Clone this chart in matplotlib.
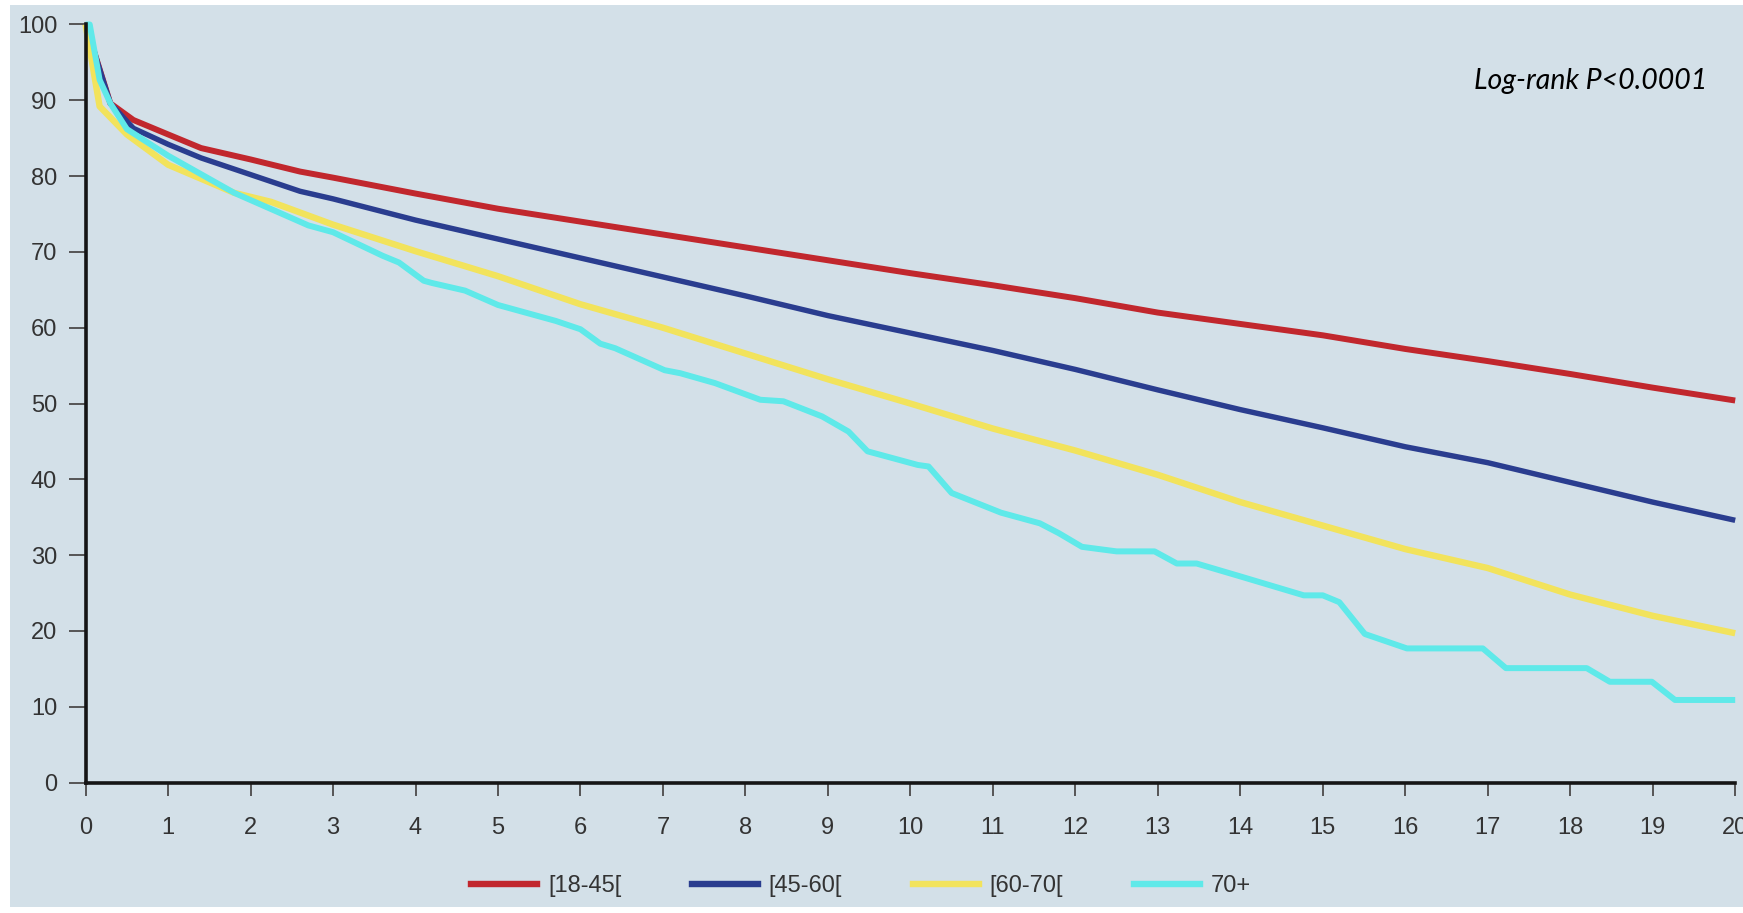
import matplotlib
matplotlib.use("Agg")
import matplotlib.pyplot as plt
from matplotlib.patches import Rectangle
from matplotlib.lines import Line2D
from matplotlib import font_manager

# Kaplan-Meier survival (%) by age group, follow-up in years
groups = ["[18-45[", "[45-60[", "[60-70[", "70+"]
colors = ["#C1272D", "#2A3D8F", "#F2E35C", "#5FE9E9"]

t_18_45 = [0, 0.3, 0.58, 1.0, 1.4, 2.0, 2.6, 3.0, 4.0, 5.0, 6.0, 7.0, 8.0, 9.0,
           10.0, 11.0, 12.0, 13.0, 14.0, 15.0, 16.0, 17.0, 18.0, 19.0, 20.0]
s_18_45 = [100, 89.6, 87.4, 85.5, 83.7, 82.2, 80.6, 79.8, 77.7, 75.7, 74.0, 72.3, 70.6, 68.9,
           67.2, 65.6, 63.9, 62.0, 60.5, 59.0, 57.2, 55.6, 53.9, 52.1, 50.4]

t_45_60 = [0, 0.3, 0.58, 1.0, 1.4, 2.0, 2.6, 3.0, 4.0, 5.0, 6.0, 7.0, 8.0, 9.0,
           10.0, 11.0, 12.0, 13.0, 14.0, 15.0, 16.0, 17.0, 18.0, 19.0, 20.0]
s_45_60 = [100, 89.6, 86.3, 84.2, 82.4, 80.2, 78.0, 77.0, 74.2, 71.7, 69.2, 66.7, 64.2, 61.6,
           59.3, 57.0, 54.5, 51.8, 49.2, 46.8, 44.3, 42.2, 39.6, 37.0, 34.6]

t_60_70 = [0, 0.17, 0.5, 1.0, 1.8, 2.25, 3.0, 4.0, 5.0, 6.0, 7.0, 8.0, 9.0,
           10.0, 11.0, 12.0, 13.0, 14.0, 15.0, 16.0, 17.0, 18.0, 19.0, 20.0]
s_60_70 = [100, 89.2, 85.5, 81.5, 77.8, 76.6, 73.6, 70.1, 66.8, 63.1, 60.0, 56.6, 53.2,
           50.0, 46.7, 43.8, 40.6, 37.0, 33.9, 30.8, 28.3, 24.8, 22.0, 19.7]

t_70 = [0, 0.05, 0.17, 0.3, 0.5, 1.0, 1.8, 2.7, 3.0, 3.6, 3.8, 4.1, 4.2, 4.6, 5.0, 5.7,
        6.0, 6.24, 6.42, 7.02, 7.21, 7.63, 8.18, 8.46, 8.93, 9.25, 9.48, 10.09, 10.22,
        10.5, 11.1, 11.57, 11.8, 12.08, 12.5, 12.96, 13.23, 13.47, 14.0, 14.77, 15.0,
        15.2, 15.51, 16.02, 16.94, 17.22, 18.2, 18.48, 18.99, 19.27, 20.0]
s_70 = [100, 100, 92.7, 89.6, 86.2, 82.7, 77.8, 73.5, 72.6, 69.5, 68.6, 66.2, 65.9, 64.9,
        63.0, 60.9, 59.8, 57.9, 57.3, 54.4, 54.0, 52.7, 50.5, 50.3, 48.3, 46.3, 43.7, 41.9,
        41.7, 38.2, 35.6, 34.2, 32.9, 31.1, 30.5, 30.5, 28.9, 28.9, 27.2, 24.7, 24.7,
        23.8, 19.6, 17.7, 17.7, 15.1, 15.1, 13.3, 13.3, 10.9, 10.9]

times = [t_18_45, t_45_60, t_60_70, t_70]
survival = [s_18_45, s_45_60, s_60_70, s_70]

x_ticks = list(range(0, 21))
y_ticks = list(range(0, 101, 10))
annotation = "Log-rank P<0.0001"

bg = "#D3E0E8"
text_col = "#333333"

names = {f.name for f in font_manager.fontManager.ttflist}
tick_font = "Liberation Sans Narrow" if "Liberation Sans Narrow" in names else "Liberation Sans"

W, H = 1743, 913
fig = plt.figure(figsize=(W / 100, H / 100), dpi=100, facecolor="white")
fig.patches.append(Rectangle((10 / W, 6 / H), 1 - 10 / W, 1 - 11 / H,
                             transform=fig.transFigure, facecolor=bg,
                             edgecolor="none", zorder=-10))

ax = fig.add_axes([85.6 / W, 1 - 782.6 / H, (1735.2 - 85.6) / W, (782.6 - 24.5) / H])
ax.set_facecolor("none")

widths = [4.3, 3.9, 4.6, 4.3]
for t, s, c, lw, g in zip(times, survival, colors, widths, groups):
    ax.plot(t, s, color=c, lw=lw, solid_joinstyle="round", solid_capstyle="butt",
            clip_on=False, label=g)

ax.set_xlim(0, 20)
ax.set_ylim(0, 100)
ax.set_xticks(x_ticks)
ax.set_yticks(y_ticks)

for side in ("top", "right"):
    ax.spines[side].set_visible(False)
for side in ("left", "bottom"):
    ax.spines[side].set_linewidth(2.6)
    ax.spines[side].set_color("#151515")

ax.tick_params(axis="y", direction="out", length=12, width=1.4, color="#555555",
               pad=8.5, labelsize=17, labelcolor=text_col)
ax.tick_params(axis="x", direction="out", length=9, width=1.4, color="#555555",
               pad=15.5, labelsize=17, labelcolor=text_col)
for lab in ax.get_xticklabels() + ax.get_yticklabels():
    lab.set_fontfamily(tick_font)

fig.text(1707 / W, 1 - 81 / H, annotation, ha="right", va="center",
         family="Lato", style="italic", fontsize=20.5, color="black")

handles = [Line2D([], [], color=c, lw=4.6) for c in colors]
leg = fig.legend(handles, groups, loc="center", bbox_to_anchor=(0.494, 1 - 886 / H),
                 ncol=4, frameon=False, handlelength=2.8, handletextpad=0.45,
                 columnspacing=3.0, prop={"family": tick_font, "size": 17})
for txt in leg.get_texts():
    txt.set_color(text_col)

fig.savefig("out.png", dpi=100, facecolor="white")
